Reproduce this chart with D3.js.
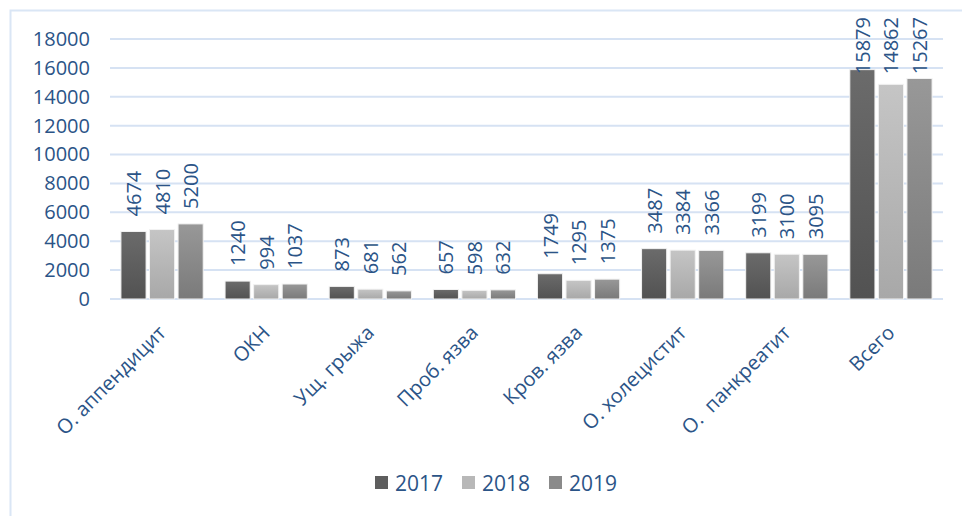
<!DOCTYPE html>
<html>
<head>
<meta charset="utf-8">
<script src="https://cdn.jsdelivr.net/npm/d3@7"></script>
<style>
  body { margin: 0; background: #fff; }
  text { font-family: "Open Sans", Lato, sans-serif; fill: #2b5487; }
</style>
</head>
<body>
<div id="chart"></div>
<script>
// Chart data
const categories = ["О. аппендицит", "ОКН", "Ущ. грыжа", "Проб. язва", "Кров. язва", "О. холецистит", "О.  панкреатит", "Всего"];
const years = ["2017", "2018", "2019"];
const values2017 = [4674, 1240, 873, 657, 1749, 3487, 3199, 15879];
const values2018 = [4810, 994, 681, 598, 1295, 3384, 3100, 14862];
const values2019 = [5200, 1037, 562, 632, 1375, 3366, 3095, 15267];
const yTicks = [0, 2000, 4000, 6000, 8000, 10000, 12000, 14000, 16000, 18000];

const series = [values2017, values2018, values2019];
// gradient colours (top, bottom) per year
const barColors = [["#6b6b6b", "#525252"], ["#c5c5c5", "#a8a8a8"], ["#989898", "#7a7a7a"]];
const legendColors = ["#5e5e5e", "#b8b8b8", "#8a8a8a"];

const W = 962, H = 516;
const plotLeft = 110, plotRight = 943, plotTop = 39, plotBottom = 299;

const svg = d3.select("#chart").append("svg")
  .attr("width", W)
  .attr("height", H);

// gradients for the bars
const defs = svg.append("defs");
barColors.forEach(function(c, i) {
  const g = defs.append("linearGradient")
    .attr("id", "grad" + i)
    .attr("x1", 0).attr("y1", 0).attr("x2", 0).attr("y2", 1);
  g.append("stop").attr("offset", "0%").attr("stop-color", c[0]);
  g.append("stop").attr("offset", "100%").attr("stop-color", c[1]);
});

// chart frame
svg.append("path")
  .attr("d", "M10.5," + H + " V10.5 H" + W)
  .attr("fill", "none")
  .attr("stroke", "#dae6f5")
  .attr("stroke-width", 2);

// scales
const x = d3.scaleBand()
  .domain(categories)
  .range([plotLeft, plotRight])
  .paddingInner(0.21)
  .paddingOuter(0.105);

const xInner = d3.scaleBand()
  .domain(years)
  .range([0, x.bandwidth()])
  .paddingInner(0.12)
  .paddingOuter(0);

const y = d3.scaleLinear()
  .domain([0, 18000])
  .range([plotBottom, plotTop]);

// gridlines
svg.append("g")
  .selectAll("line")
  .data(yTicks)
  .enter()
  .append("line")
    .attr("x1", plotLeft)
    .attr("x2", plotRight)
    .attr("y1", function(d) { return y(d); })
    .attr("y2", function(d) { return y(d); })
    .attr("stroke", "#d6e2f3")
    .attr("stroke-width", 2);

// Y axis labels
const yAxis = svg.append("g")
  .attr("transform", "translate(" + (plotLeft - 20) + ",0)")
  .call(d3.axisLeft(y).tickValues(yTicks).tickFormat(d3.format("d")).tickSize(0).tickPadding(0));
yAxis.select(".domain").remove();
yAxis.selectAll("text")
  .attr("font-size", "20px")
  .attr("font-family", null)
  .attr("fill", null);

// bars
series.forEach(function(vals, si) {
  svg.append("g")
    .selectAll("rect")
    .data(vals)
    .enter()
    .append("rect")
      .attr("x", function(d, i) { return x(categories[i]) + xInner(years[si]); })
      .attr("y", function(d) { return y(d); })
      .attr("width", xInner.bandwidth())
      .attr("height", function(d) { return plotBottom - y(d); })
      .attr("fill", "url(#grad" + si + ")")
      .attr("stroke", "#f2f2f2")
      .attr("stroke-width", 1);
});

// value labels, rotated (kept inside the plot at the top)
series.forEach(function(vals, si) {
  svg.append("g")
    .selectAll("text")
    .data(vals)
    .enter()
    .append("text")
      .text(function(d) { return d; })
      .attr("font-size", "20px")
      .attr("dominant-baseline", "central")
      .attr("transform", function(d, i) {
        const cx = x(categories[i]) + xInner(years[si]) + xInner.bandwidth() / 2;
        const len = this.getComputedTextLength();
        const yy = Math.max(y(d) - 15, 17 + len);
        return "translate(" + cx + "," + yy + ") rotate(-90)";
      });
});

// X axis labels, rotated 45
svg.append("g")
  .selectAll("text")
  .data(categories)
  .enter()
  .append("text")
    .text(function(d) { return d; })
    .attr("font-size", "20px")
    .attr("text-anchor", "end")
    .style("white-space", "pre")
    .attr("transform", function(d) {
      return "translate(" + (x(d) + x.bandwidth() / 2 + 5) + "," + (plotBottom + 35) + ") rotate(-45)";
    });

// legend
const legendX = [375, 462, 549];
const legend = svg.append("g");
years.forEach(function(yr, i) {
  legend.append("rect")
    .attr("x", legendX[i])
    .attr("y", 476)
    .attr("width", 13)
    .attr("height", 13)
    .attr("fill", legendColors[i]);
  legend.append("text")
    .attr("x", legendX[i] + 20)
    .attr("y", 483)
    .attr("dominant-baseline", "central")
    .attr("font-size", "21px")
    .text(yr);
});
</script>
</body>
</html>
